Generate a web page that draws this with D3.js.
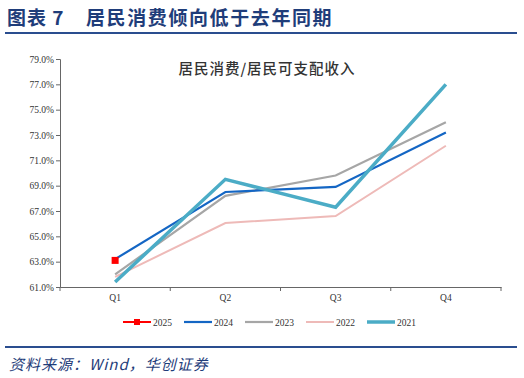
<!DOCTYPE html>
<html><head><meta charset="utf-8">
<script src="https://cdn.jsdelivr.net/npm/d3@7/dist/d3.min.js"></script>
<style>
html,body{margin:0;padding:0;background:#fff;}
svg{display:block;}
</style></head>
<body>
<script>
const categories = ["Q1","Q2","Q3","Q4"];
const seriesNames = ["2025","2024","2023","2022","2021"];
const s2025 = [63.1];
const s2024 = [63.2, 68.5, 68.9, 73.2];
const s2023 = [62.0, 68.2, 69.8, 74.0];
const s2022 = [61.8, 66.05, 66.6, 72.15];
const s2021 = [61.4, 69.5, 67.3, 77.0];
const yTicks = [61,63,65,67,69,71,73,75,77,79];

const W = 524, H = 378;
const svg = d3.select("body").append("svg").attr("width", W).attr("height", H);

const navy = "#1f3d7a";
// header
svg.append("text").attr("x", 7).attr("y", 25)
  .attr("font-family", "Noto Sans CJK SC").attr("font-weight", "bold")
  .attr("font-size", 19).attr("fill", navy).attr("letter-spacing", 1)
  .text("图表 7");
svg.append("text").attr("x", 86).attr("y", 25)
  .attr("font-family", "Noto Sans CJK SC").attr("font-weight", "bold")
  .attr("font-size", 19).attr("fill", navy).attr("letter-spacing", 1.6)
  .text("居民消费倾向低于去年同期");
svg.append("line").attr("x1", 5).attr("x2", 517).attr("y1", 33).attr("y2", 33)
  .attr("stroke", "#2a4d8f").attr("stroke-width", 2);
// footer
svg.append("line").attr("x1", 5).attr("x2", 517).attr("y1", 347).attr("y2", 347)
  .attr("stroke", "#2a4d8f").attr("stroke-width", 2);
svg.append("text").attr("x", 9).attr("y", 370)
  .attr("font-family", "Noto Sans CJK SC").attr("font-style", "italic")
  .attr("font-size", 15).attr("fill", navy).attr("letter-spacing", 1)
  .text("资料来源：Wind，华创证券");

const x = d3.scaleBand().domain(categories).range([60, 501]);
const y = d3.scaleLinear().domain([61, 79]).range([287, 59]);

// chart title
svg.append("text").attr("x", 267).attr("y", 74).attr("text-anchor", "middle")
  .attr("font-family", "Noto Sans CJK SC").attr("font-size", 14.5).attr("fill", "#333")
  .attr("font-weight", "500").attr("letter-spacing", 1)
  .text("居民消费/居民可支配收入");

// axes
const yAxis = svg.append("g").attr("transform", "translate(60,0)")
  .call(d3.axisLeft(y).tickValues(yTicks).tickSize(4).tickFormat(d => d.toFixed(1) + "%"));
yAxis.select(".domain").attr("stroke", "#666");
yAxis.selectAll(".tick line").attr("stroke", "#666");
yAxis.selectAll("text").attr("font-family", "Liberation Serif").attr("font-size", 9.5)
  .attr("fill", "#333").attr("x", -6);

const xAxis = svg.append("g").attr("transform", "translate(0,287)")
  .call(d3.axisBottom(x).tickSize(0).tickPadding(7));
xAxis.select(".domain").attr("stroke", "#666");
xAxis.selectAll("text").attr("font-family", "Liberation Serif").attr("font-size", 9.5).attr("fill", "#333");
// boundary ticks
const bounds = [60].concat(categories.map(c => x(c) + x.bandwidth()));
svg.append("g").selectAll("line").data(bounds).join("line")
  .attr("x1", d => d).attr("x2", d => d).attr("y1", 287).attr("y2", 291)
  .attr("stroke", "#666");

const cx = c => x(c) + x.bandwidth() / 2;
const series = [
  {name: "2022", vals: s2022, color: "#eebab8", w: 2},
  {name: "2023", vals: s2023, color: "#a6a6a6", w: 2.2},
  {name: "2024", vals: s2024, color: "#1466c4", w: 2.2},
  {name: "2021", vals: s2021, color: "#4bacc6", w: 3.5},
  {name: "2025", vals: s2025, color: "#ff0000", w: 2, marker: true}
];
const line = d3.line().x((d, i) => cx(categories[i])).y(d => y(d));
series.forEach(s => {
  svg.append("path").datum(s.vals).attr("d", line).attr("fill", "none")
    .attr("stroke", s.color).attr("stroke-width", s.w).attr("stroke-linejoin", "miter");
  if (s.marker) {
    svg.append("g").selectAll("rect").data(s.vals).join("rect")
      .attr("x", (d, i) => cx(categories[i]) - 3.5).attr("y", d => y(d) - 3.5)
      .attr("width", 7).attr("height", 7).attr("fill", s.color);
  }
});

// legend
const legendItems = [
  {name: "2025", color: "#ff0000", w: 2, marker: true, x: 123},
  {name: "2024", color: "#1466c4", w: 2.2, x: 184},
  {name: "2023", color: "#a6a6a6", w: 2.2, x: 245},
  {name: "2022", color: "#eebab8", w: 2, x: 306},
  {name: "2021", color: "#4bacc6", w: 3.5, x: 367}
];
const lg = svg.append("g");
legendItems.forEach(it => {
  lg.append("line").attr("x1", it.x).attr("x2", it.x + 28).attr("y1", 322).attr("y2", 322)
    .attr("stroke", it.color).attr("stroke-width", it.w);
  if (it.marker) lg.append("rect").attr("x", it.x + 11).attr("y", 319).attr("width", 6).attr("height", 6).attr("fill", it.color);
  lg.append("text").attr("x", it.x + 30).attr("y", 325.5)
    .attr("font-family", "Liberation Serif").attr("font-size", 9.5).attr("fill", "#333").text(it.name);
});
</script>
</body></html>
